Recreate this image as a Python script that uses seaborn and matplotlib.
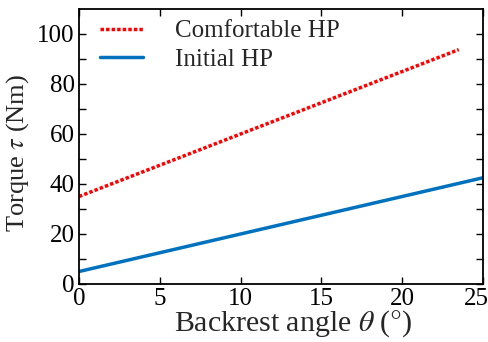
import matplotlib
matplotlib.use('Agg')
import matplotlib.pyplot as plt
import matplotlib.transforms as mtrans
import seaborn as sns
import pandas as pd

# values
angle_comf = [0, 5, 10, 15, 20, 23.5]
torque_comf = [35, 47.5, 60, 72.5, 85, 93.75]
angle_init = [0, 5, 10, 15, 20, 25]
torque_init = [5, 12.5, 20, 27.5, 35, 42.5]
labels = ['Comfortable HP', 'Initial HP']

sns.set_style('ticks')
plt.rcParams['font.family'] = ['Liberation Serif', 'DejaVu Serif']
plt.rcParams['mathtext.fontset'] = 'stix'

df = pd.concat([
    pd.DataFrame({'angle': angle_comf, 'torque': torque_comf, 'case': labels[0]}),
    pd.DataFrame({'angle': angle_init, 'torque': torque_init, 'case': labels[1]}),
])

fig = plt.figure(figsize=(4.89, 3.42), dpi=100)
ax = fig.add_axes([79 / 489, 1 - 284 / 342, (483 - 79) / 489, (284 - 9) / 342])

sns.lineplot(data=df, x='angle', y='torque', hue='case', style='case',
             palette={labels[0]: '#ff0000', labels[1]: '#0072bd'},
             dashes={labels[0]: (1, 0.6), labels[1]: ''},
             linewidth=2.5, ax=ax)

ax.set_xlim(0, 25)
ax.set_ylim(0, 110)
ax.set_xticks([0, 5, 10, 15, 20, 25])
ax.set_yticks(range(0, 110, 10))
ax.set_yticklabels([str(v) if v % 20 == 0 else '' for v in range(0, 110, 10)])
ax.tick_params(direction='in', length=5, width=1, top=True, right=True,
               labelsize=18, colors='black', pad=3)
for s in ax.spines.values():
    s.set_linewidth(1.3)
    s.set_color('black')

# last x label sits a bit inside, as in the reference
last = ax.get_xticklabels()[-1]
last.set_transform(last.get_transform() + mtrans.ScaledTranslation(-7 / 100, 0, fig.dpi_scale_trans))

ax.set_xlabel(r'Backrest angle $\theta$ ($\degree$)', fontsize=21.5, labelpad=-1)
ax.xaxis.label.set_x(0.53)
ax.set_ylabel(r'Torque $\tau$ (Nm)', fontsize=19)
ax.yaxis.set_label_coords(-0.12, 0.476)

leg = ax.legend(loc='upper left', frameon=False, fontsize=18,
                handlelength=1.7, handletextpad=1.3, labelspacing=0.24,
                borderaxespad=0.2, bbox_to_anchor=(0.015, 1.015))
for h in leg.get_lines():
    h.set_linewidth(2.5)

fig.savefig('out.png', dpi=100)
